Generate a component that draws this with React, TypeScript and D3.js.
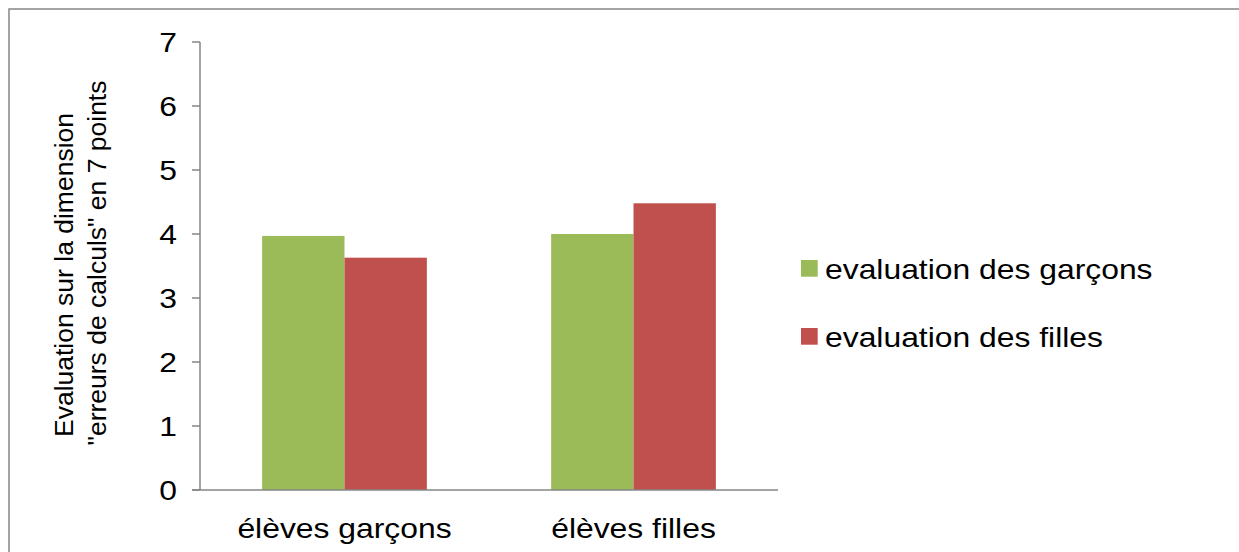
import React from "react";
import * as d3 from "d3";

const categories = ["élèves garçons", "élèves filles"];
const seriesNames = ["evaluation des garçons", "evaluation des filles"];
const garconsValues = [3.97, 4.0];
const fillesValues = [3.63, 4.48];
const yTicks = [0, 1, 2, 3, 4, 5, 6, 7];
const colors = ["#9BBB59", "#C0504D"];
const yTitleLines = ["Evaluation sur la dimension", "\"erreurs de calculs\" en 7 points"];

const W = 1239;
const H = 552;
const FONT = "'Liberation Sans', Arial, Helvetica, sans-serif";
const AXIS = "#868686";
const STRETCH = 1.18;

export default function App() {
  const left = 200;
  const right = 778;
  const top = 42;
  const bottom = 490;

  const x0 = d3.scaleBand<string>().domain(categories).range([left, right]).paddingInner(0.43).paddingOuter(0.215);
  const x1 = d3.scaleBand<number>().domain([0, 1]).range([0, x0.bandwidth()]);
  const y = d3.scaleLinear().domain([0, 7]).range([bottom, top]);

  const series = [garconsValues, fillesValues];
  const titleCenters = [275, 263];

  return (
    <svg width={W} height={H} style={{ position: "absolute", left: 0, top: 0, background: "#fff" }} fontFamily={FONT}>
      <rect x={9} y={9} width={W + 20} height={H + 20} fill="#fff" stroke={AXIS} strokeWidth={1.5} />

      {/* bars */}
      {categories.map((c, ci) =>
        series.map((vals, si) => (
          <rect
            key={c + si}
            x={(x0(c) as number) + (x1(si) as number)}
            y={y(vals[ci])}
            width={x1.bandwidth()}
            height={bottom - y(vals[ci])}
            fill={colors[si]}
          />
        ))
      )}

      {/* y axis */}
      <line x1={left} x2={left} y1={top} y2={bottom} stroke={AXIS} strokeWidth={1.5} />
      {yTicks.map((t) => (
        <g key={t}>
          <line x1={left - 8} x2={left} y1={y(t)} y2={y(t)} stroke={AXIS} strokeWidth={1.5} />
          <g transform={`translate(177,${y(t) + 9.5}) scale(${STRETCH},1)`}>
            <text x={0} y={0} textAnchor="end" fontSize={27} fill="#000">
              {t}
            </text>
          </g>
        </g>
      ))}

      {/* x axis */}
      <line x1={left - 8} x2={right} y1={bottom} y2={bottom} stroke={AXIS} strokeWidth={1.5} />
      {categories.map((c) => (
        <g key={c} transform={`translate(${(x0(c) as number) + x0.bandwidth() / 2},538) scale(${STRETCH},1)`}>
          <text x={0} y={0} textAnchor="middle" fontSize={27} fill="#000">
            {c}
          </text>
        </g>
      ))}

      {/* y title */}
      {yTitleLines.map((line, i) => (
        <text
          key={i}
          transform={`translate(${73 + i * 33},${titleCenters[i]}) rotate(-90)`}
          textAnchor="middle"
          fontSize={26.5}
          fill="#000"
        >
          {line}
        </text>
      ))}

      {/* legend */}
      {seriesNames.map((name, i) => {
        const cy = 268.3 + i * 68;
        return (
          <g key={name}>
            <rect x={801} y={cy - 8.3} width={16.7} height={16.7} fill={colors[i]} />
            <g transform={`translate(825,${cy + 10.5}) scale(${STRETCH},1)`}>
              <text x={0} y={0} fontSize={27} fill="#000">
                {name}
              </text>
            </g>
          </g>
        );
      })}
    </svg>
  );
}
